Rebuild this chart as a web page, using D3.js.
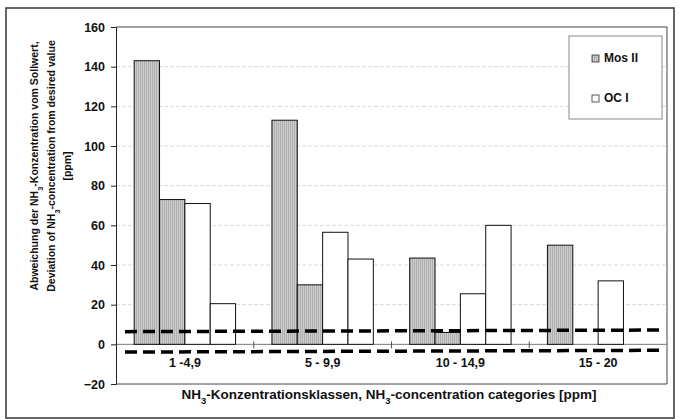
<!DOCTYPE html>
<html>
<head>
<meta charset="utf-8">
<script src="https://cdn.jsdelivr.net/npm/d3@7"></script>
<style>
    body { margin: 0; background: #fff; }
    text { font-family: "Liberation Sans", Arial, sans-serif; fill: #111; }
</style>
</head>
<body>
<svg id="chart" width="679" height="419"></svg>
<script>
/*global d3*/

// chart data
var categories = ["1 -4,9", "5 - 9,9", "10 - 14,9", "15 - 20"];
var seriesNames = ["Mos II a", "Mos II b", "OC I a", "OC I b"];
var mosIIa = [143, 113, 43.5, 50];
var mosIIb = [73, 30, 6, null];
var ocIa = [71, 56.5, 25.5, 32];
var ocIb = [20.5, 43, 60, null];
var legendNames = ["Mos II", "OC I"];
var yTicks = [-20, 0, 20, 40, 60, 80, 100, 120, 140, 160];
// dashed tolerance lines (value at left end, value at right end)
var upperLimit = [6.4, 7.2];
var lowerLimit = [-3.9, -3.0];

var svg = d3.select("#chart");

var plot = {left: 116, right: 667, top: 27, bottom: 384};

var yScale = d3.scaleLinear()
    .domain([-20, 160])
    .range([plot.bottom, plot.top]);

var x0 = d3.scaleBand()
    .domain(categories)
    .range([plot.left, plot.right])
    .paddingInner(0.264)
    .paddingOuter(0.132);

var x1 = d3.scaleBand()
    .domain(seriesNames)
    .range([0, x0.bandwidth()]);

var allSeries = [mosIIa, mosIIb, ocIa, ocIb];
var isGray = function (name) { return name.indexOf("Mos") === 0; };

var bars = [];
categories.forEach(function (cat, ci) {
    seriesNames.forEach(function (name, si) {
        var v = allSeries[si][ci];
        if (v !== null) {
            bars.push({cat: cat, series: name, value: v});
        }
    });
});

// striped fill for the grey bars
var defs = svg.append("defs");
var pat = defs.append("pattern")
    .attr("id", "stripes")
    .attr("patternUnits", "userSpaceOnUse")
    .attr("width", 2).attr("height", 4);
pat.append("rect").attr("width", 2).attr("height", 4).attr("fill", "#cbcbcb");
pat.append("rect").attr("width", 1).attr("height", 4).attr("fill", "#b0b0b0");

// outer frame
svg.append("rect")
    .attr("x", 6).attr("y", 8)
    .attr("width", 668).attr("height", 410)
    .attr("fill", "none")
    .attr("stroke", "#333")
    .attr("stroke-width", 1.5);

// gridlines
svg.append("g")
    .selectAll("line")
    .data(yTicks.filter(function (t) { return t > 0 && t < 160; }))
    .enter()
    .append("line")
    .attr("x1", plot.left).attr("x2", plot.right)
    .attr("y1", function (d) { return yScale(d); })
    .attr("y2", function (d) { return yScale(d); })
    .attr("stroke", "#d0d0d0")
    .attr("stroke-dasharray", "4,2")
    .attr("stroke-width", 0.8);

// plot border (top, right, bottom)
svg.append("path")
    .attr("d", "M" + plot.left + "," + plot.top + "H" + plot.right + "V" + plot.bottom + "H" + plot.left)
    .attr("fill", "none")
    .attr("stroke", "#444")
    .attr("stroke-width", 1);

// zero line
svg.append("line")
    .attr("x1", plot.left).attr("x2", plot.right)
    .attr("y1", yScale(0)).attr("y2", yScale(0))
    .attr("stroke", "#777")
    .attr("stroke-width", 1);

// category separators on the zero line
svg.append("g")
    .selectAll("line")
    .data(d3.range(1, categories.length))
    .enter()
    .append("line")
    .attr("x1", function (i) { return plot.left + i * x0.step(); })
    .attr("x2", function (i) { return plot.left + i * x0.step(); })
    .attr("y1", yScale(0) - 3)
    .attr("y2", yScale(0) + 4)
    .attr("stroke", "#555");

// bars
svg.append("g")
    .selectAll("rect")
    .data(bars)
    .enter()
    .append("rect")
    .attr("x", function (d) { return x0(d.cat) + x1(d.series); })
    .attr("y", function (d) { return yScale(d.value); })
    .attr("width", x1.bandwidth())
    .attr("height", function (d) { return yScale(0) - yScale(d.value); })
    .attr("fill", function (d) { return isGray(d.series) ? "url(#stripes)" : "#fff"; })
    .attr("stroke", "#111")
    .attr("stroke-width", 1);

// dashed tolerance lines
var lineX = [plot.left + 9, plot.right - 7];
[upperLimit, lowerLimit].forEach(function (lim) {
    svg.append("line")
        .attr("x1", lineX[0]).attr("x2", lineX[1])
        .attr("y1", yScale(lim[0])).attr("y2", yScale(lim[1]))
        .attr("stroke", "#000")
        .attr("stroke-width", 3.5)
        .attr("stroke-dasharray", "12,6");
});

// y axis
var yAxis = svg.append("g")
    .attr("transform", "translate(" + plot.left + ",0)")
    .call(d3.axisLeft(yScale).tickValues(yTicks).tickSize(5).tickPadding(6));
yAxis.select(".domain").attr("stroke", "#222");
yAxis.selectAll(".tick line").attr("stroke", "#222");
yAxis.selectAll("text")
    .attr("font-size", 12.5)
    .attr("font-weight", "bold")
    .attr("font-family", "Liberation Sans, Arial, sans-serif")
    .attr("fill", "#111");

// category labels
svg.append("g")
    .selectAll("text")
    .data(categories)
    .enter()
    .append("text")
    .attr("x", function (d) { return x0(d) + x0.bandwidth() / 2; })
    .attr("y", 367)
    .attr("text-anchor", "middle")
    .attr("font-size", 12.5)
    .attr("font-weight", "bold")
    .text(function (d) { return d; });

// NH3 with subscript
function nh3(sel, parts) {
    parts.forEach(function (p) {
        if (p === "3") {
            sel.append("tspan").attr("baseline-shift", "sub").attr("font-size", "0.7em").text("3");
        } else {
            sel.append("tspan").text(p);
        }
    });
}

var xTitle = svg.append("text")
    .attr("x", 389).attr("y", 399)
    .attr("text-anchor", "middle")
    .attr("font-size", 12.5)
    .attr("font-weight", "bold")
    .attr("textLength", 415)
    .attr("lengthAdjust", "spacingAndGlyphs");
nh3(xTitle, ["NH", "3", "-Konzentrationsklassen, NH", "3", "-concentration categories [ppm]"]);

// y title, three lines
var yTitleLines = [
    ["Abweichung der NH", "3", "-Konzentration vom Sollwert,"],
    ["Deviation of NH", "3", "-concentration from desired value"],
    ["[ppm]"]
];
yTitleLines.forEach(function (parts, i) {
    var t = svg.append("text")
        .attr("transform", "translate(" + (38 + i * 16.5) + ",166) rotate(-90)")
        .attr("text-anchor", "middle")
        .attr("font-size", 10.5)
        .attr("font-weight", "bold");
    nh3(t, parts);
});

// legend
var legend = svg.append("g");
legend.append("rect")
    .attr("x", 569).attr("y", 36)
    .attr("width", 93).attr("height", 83)
    .attr("fill", "#fff")
    .attr("stroke", "#888");
legendNames.forEach(function (name, i) {
    var ly = 62 + i * 40;
    legend.append("rect")
        .attr("x", 592).attr("y", ly - 7)
        .attr("width", 7).attr("height", 7)
        .attr("fill", i === 0 ? "url(#stripes)" : "#fff")
        .attr("stroke", "#333")
        .attr("stroke-width", 0.8);
    legend.append("text")
        .attr("x", 604).attr("y", ly)
        .attr("font-size", 12)
        .attr("font-weight", "bold")
        .text(name);
});
</script>
</body>
</html>
